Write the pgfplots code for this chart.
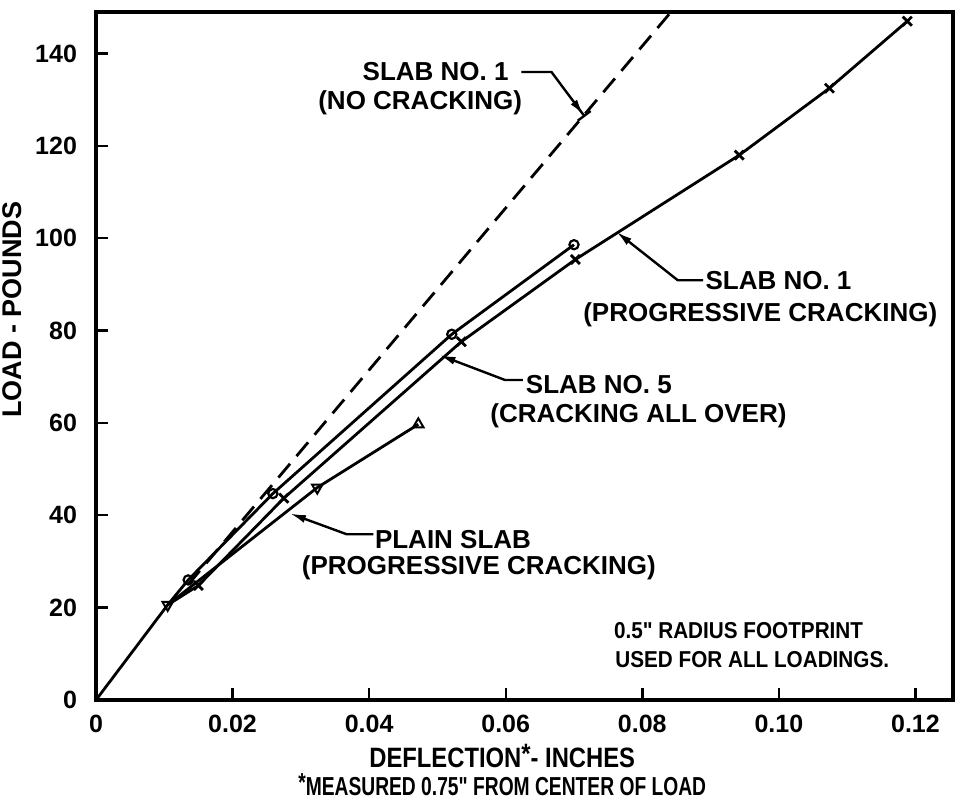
\documentclass[border=0pt]{standalone}
\usepackage{fontspec}
\setmainfont{Liberation Sans}
\newfontfamily\notefont[FakeStretch=0.9]{Liberation Sans}
\newfontfamily\narrowA[FakeStretch=0.85]{Liberation Sans}
\newfontfamily\narrowB[FakeStretch=0.74]{Liberation Sans}
\usepackage{pgfplots}
\pgfplotsset{compat=1.18}
\usetikzlibrary{arrows.meta,calc}

\tikzset{
  lbl/.style={font=\bfseries\fontsize{13}{15}\selectfont, anchor=base west, inner sep=0pt},
  note/.style={font=\notefont\bfseries\fontsize{11.5}{13}\selectfont, anchor=base west, inner sep=0pt},
  lead/.style={line width=1.2pt, -{Latex[length=8pt,width=4pt]}},
  leadbar/.style={line width=1.2pt, -{Latex[length=8pt,width=4pt] Bar[width=8pt,line width=1.2pt]}},
}

\begin{document}
\begin{tikzpicture}
\begin{axis}[
    scale only axis, width=428.5pt, height=344pt,
    xmin=0, xmax=0.1255, ymin=0, ymax=149,
    clip=false,
    axis line style={line width=1.8pt},
    tick pos=left, tick align=inside, major tick length=6pt,
    tick style={line width=1.2pt, black},
    xtick={0,0.02,0.04,0.06,0.08,0.10,0.12},
    xticklabels={0,0.02,0.04,0.06,0.08,0.10,0.12},
    ytick={0,20,...,140},
    scaled x ticks=false,
    /pgf/number format/assume math mode=true,
    ticklabel style={font=\bfseries\fontsize{12.5}{14}\selectfont},
    xticklabel style={yshift=-4pt},
    yticklabel style={xshift=-6pt},
    ylabel={LOAD - POUNDS},
    ylabel style={font=\bfseries\fontsize{13.5}{15}\selectfont, at={(ticklabel cs:0.567)}},
  ]
  % plain slab (common start from origin)
  \addplot[line width=1.4pt, mark=none] coordinates {(0,0)(0.0105,20.6)(0.0324,46.0)(0.0472,59.7)};
  \addplot[only marks, mark=triangle, mark size=3pt, mark options={rotate=180, line width=1pt}]
    coordinates {(0.0105,20.6)(0.0324,46.0)};
  \addplot[only marks, mark=triangle, mark size=3pt, mark options={line width=1pt}]
    coordinates {(0.0472,59.7)};
  % slab no. 5
  \addplot[line width=1.4pt, mark=none] coordinates {(0.0105,20.6)(0.0135,26.0)(0.0259,44.7)(0.0521,79.2)(0.0700,98.6)};
  \addplot[only marks, mark=o, mark size=2.3pt, mark options={line width=1.1pt, fill=white}]
    coordinates {(0.0135,26.0)(0.0259,44.7)(0.0521,79.2)(0.0700,98.6)};
  % slab no. 1, progressive cracking
  \addplot[line width=1.4pt, mark=none] coordinates {(0.0105,20.6)(0.0150,24.8)(0.0275,43.7)(0.0535,77.6)(0.0702,95.4)(0.0942,118.0)(0.1074,132.5)(0.1188,147.0)};
  \addplot[only marks, mark=x, mark size=3.2pt, mark options={line width=1.4pt}]
    coordinates {(0.0150,24.8)(0.0275,43.7)(0.0535,77.6)(0.0702,95.4)(0.0942,118.0)(0.1074,132.5)(0.1188,147.0)};
  % slab no. 1, no cracking
  \addplot[line width=1.4pt, mark=none, dash pattern=on 9pt off 5pt] coordinates {(0.0135,25.0)(0.0842,149)};

  % annotations
  \node[lbl] at (axis cs:0.0390,134.1) {SLAB NO. 1};
  \node[lbl] at (axis cs:0.0325,127.8) {(NO CRACKING)};
  \draw[leadbar] (axis cs:0.0623,136.0) -- (axis cs:0.0667,136.0) -- (axis cs:0.0716,126.3);

  \node[lbl] at (axis cs:0.0892,88.8) {SLAB NO. 1};
  \node[lbl] at (axis cs:0.0713,81.9) {(PROGRESSIVE CRACKING)};
  \draw[lead] (axis cs:0.0889,90.9) -- (axis cs:0.0852,90.9) -- (axis cs:0.0762,101.4);

  \node[lbl] at (axis cs:0.0629,66.4) {SLAB NO. 5};
  \node[lbl] at (axis cs:0.0577,60.1) {(CRACKING ALL OVER)};
  \draw[lead] (axis cs:0.0625,69.3) -- (axis cs:0.0599,69.3) -- (axis cs:0.0503,74.7);

  \node[lbl] at (axis cs:0.0408,32.9) {PLAIN SLAB};
  \node[lbl] at (axis cs:0.0301,27.2) {(PROGRESSIVE CRACKING)};
  \draw[lead] (axis cs:0.0406,35.9) -- (axis cs:0.0367,35.9) -- (axis cs:0.0284,40.4);

  \node[note] at (axis cs:0.0758,13.3) {0.5" RADIUS FOOTPRINT};
  \node[note] at (axis cs:0.0760,7.1) {USED FOR ALL LOADINGS.};

  \node[font=\narrowA\bfseries\fontsize{14}{16}\selectfont, yshift=-28pt] at (rel axis cs:0.474,0)
    {DEFLECTION\raisebox{2pt}{*}- INCHES};
  \node[font=\narrowB\bfseries\fontsize{13}{15}\selectfont, yshift=-42.5pt] at (rel axis cs:0.474,0)
    {\raisebox{2pt}{*}MEASURED 0.75" FROM CENTER OF LOAD};
\end{axis}
\pgfresetboundingbox
\path[use as bounding box] ($(current axis.south west)+(-48pt,-50pt)$) rectangle ($(current axis.north east)+(4pt,6pt)$);
\end{tikzpicture}
\end{document}
